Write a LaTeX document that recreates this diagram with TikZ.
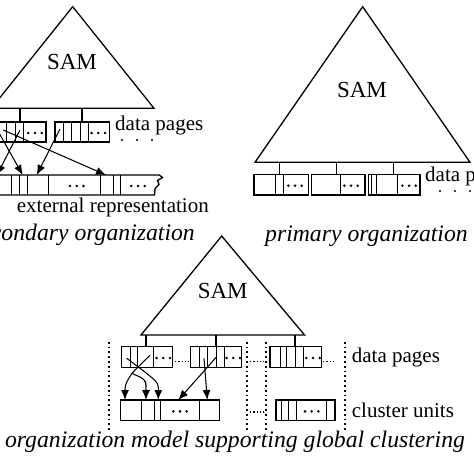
\documentclass[tikz,border=0pt]{standalone}
\usepackage{fontspec}
\setmainfont{Liberation Serif}
\usetikzlibrary{arrows.meta}
\newcommand\boxdots[2]{\foreach \dd in {-6.7,0,6.7} \fill ({#1+\dd},#2) circle (1.4pt);}
\newcommand\recbox[6]{%
  \draw[frame] (#1,#3) rectangle (#2,#4);
  \foreach \s in {#5} \draw[sepline] (\s,#3) -- (\s,#4);
  \pgfmathsetmacro\dy{(#3+#4)/2+1}
  \boxdots{#6}{\dy}}
\begin{document}
\begin{tikzpicture}[x=1pt,y=-1pt,
  frame/.style={line width=1.3pt},
  sepline/.style={line width=0.9pt},
  arr/.style={line width=1.05pt,-{Latex[length=10pt,width=8pt]}},
  lbl/.style={font=\fontsize{21}{24}\selectfont, inner sep=0pt},
  captext/.style={font=\fontsize{23.7}{28}\selectfont\itshape, inner sep=0pt},
  sam/.style={font=\fontsize{23}{26}\selectfont, inner sep=0pt},
  vdots/.style={line width=1.8pt, dash pattern=on 1.8pt off 3pt},
  hdots/.style={line width=1.3pt, dash pattern=on 1.3pt off 2pt},
]
\clip (0,0) rectangle (474,474);
\fill[white] (0,0) rectangle (474,474);

% ---------- top left: secondary organization ----------
\draw[frame] (72.7,6.7) -- (154,108.3) -- (-8.6,108.3) -- cycle;
\node[sam] (samA) at (72,62) {SAM};
\draw[frame] (20,108.3) -- (20,122);
\draw[frame] (82,108.3) -- (82,122);
\recbox{-5}{46}{122}{142}{6.7,15,23}{35}
\recbox{55}{109.3}{122}{142}{63.3,71.7,80,88.3}{98.3}
\node[lbl,anchor=west] (dpA) at (115,125) {data pages};
\foreach \x in {122,137,152} \fill (\x,140) circle (1.2pt);
% external representation bar with torn end
\draw[frame] (-5,175) -- (159.3,175) -- (162.5,177.5) -- (157.5,180.5) -- (159,184.5) -- (155,188.5) -- (154.5,195) -- (-5,195);
\foreach \s in {11,19,27,48.3,100.7,113,120.7} \draw[sepline] (\s,175) -- (\s,195);
\boxdots{76.7}{186}
\boxdots{138}{186}
\node[lbl,anchor=west] (ext) at (16.7,207.3) {external representation};
\node[captext,anchor=east] (capA) at (195,235) {secondary organization};
% arrows
\coordinate (a1s) at (3.3,130);  \coordinate (a1e) at (106,175);
\coordinate (a2s) at (60,129);   \coordinate (a2e) at (36.7,175);
\coordinate (a3s) at (20,130);   \coordinate (a3e) at (-3,175);
\coordinate (a4s) at (-6,124);   \coordinate (a4e) at (22.7,175);
\draw[arr] (a1s) -- (a1e);
\draw[arr] (a2s) -- (a2e);
\draw[arr] (a3s) -- (a3e);
\draw[arr] (a4s) -- (a4e);

% ---------- top right: primary organization ----------
\draw[frame] (362.7,6.7) -- (470,162.3) -- (255,162.3) -- cycle;
\node[sam] (samB) at (362,90) {SAM};
\foreach \x in {279.3,336.7,393.3} \draw[frame] (\x,162.3) -- (\x,174.3);
\recbox{254}{308.3}{174.3}{195}{275,283.3}{295}
\recbox{311.7}{365}{174.3}{195}{340}{351}
\recbox{368.3}{420}{174.3}{195}{371.7,376.7,397.3}{409}
\node[lbl,anchor=west] (dpB) at (425,176.7) {data pages};
\foreach \x in {440,455,470} \fill (\x,191) circle (1.2pt);
\node[captext] (capB) at (366.5,236.7) {primary organization};

% ---------- bottom: global clustering ----------
\draw[frame] (221.7,236) -- (304.5,335) -- (141,335) -- cycle;
\node[sam] (samC) at (222.7,290.7) {SAM};
\foreach \x in {146,216,295} \draw[frame] (\x,335) -- (\x,346.7);
\recbox{121.7}{172.7}{346.7}{367.3}{130,137.3,153.3}{163.3}
\recbox{190.7}{241.7}{346.7}{367.3}{199.3,207.3,216,224}{233.3}
\recbox{270}{321.7}{346.7}{367.3}{280,286.7,295,303.3}{313}
\recbox{120.7}{219.3}{400}{420.7}{141.7,154,160.7,199.3}{180}
\recbox{276}{335}{400}{420.7}{281.7,288.3,296.7,326}{311.7}
\draw[hdots] (175,361.5) -- (189,361.5);
\draw[hdots] (250,361.5) -- (264,361.5);
\draw[hdots] (323,361.5) -- (335,361.5);
\draw[hdots] (250,412) -- (264,412);
\foreach \x in {109.3,247,265.7,345} \draw[vdots] (\x,341.7) -- (\x,430);
\node[lbl,anchor=west] (dpC) at (351.7,357.3) {data pages};
\node[lbl,anchor=west] (cu) at (351.7,410) {cluster units};
\node[captext] (capC) at (235,441.7) {organization model supporting global clustering};
% arrows
\coordinate (b1s) at (150,355.3); \coordinate (bx) at (131.7,373.3);
\coordinate (b1e) at (125,400);
\coordinate (b2e) at (146,400);
\coordinate (b3s) at (126.7,358.3); \coordinate (b3e) at (158.3,400);
\draw[arr,rounded corners=4pt] (b1s) -- (bx) -- (125,385) -- (b1e);
\draw[arr,rounded corners=4pt] (bx) -- (145,379.3) -- (146,385) -- (b2e);
\draw[arr,rounded corners=4pt] (b3s) -- (146.7,373.3) -- (158.3,383.3) -- (b3e);
\coordinate (b4s) at (216.7,356.7); \coordinate (b4e) at (178.3,400);
\coordinate (b5s) at (204,358.3);   \coordinate (b5e) at (207.3,400);
\draw[arr] (b4s) -- (b4e);
\draw[arr] (b5s) -- (b5e);
\end{tikzpicture}
\end{document}
